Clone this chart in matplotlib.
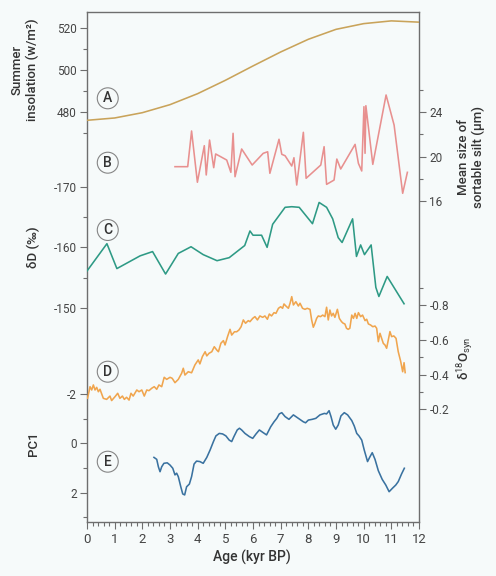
import matplotlib
matplotlib.use('Agg')
import matplotlib.pyplot as plt
from matplotlib.ticker import FixedLocator, FixedFormatter, MultipleLocator

plt.rcParams['font.family'] = ['Roboto', 'DejaVu Sans']
plt.rcParams['mathtext.fontset'] = 'custom'
plt.rcParams['mathtext.rm'] = 'Roboto'
plt.rcParams['mathtext.it'] = 'Roboto:italic'
plt.rcParams['mathtext.bf'] = 'Roboto:bold'
plt.rcParams['axes.unicode_minus'] = False

# ---------------- data ----------------
# A: summer insolation (W/m2)
age_A = [0, 1, 2, 3, 4, 5, 6, 7, 8, 9, 10, 11, 12]
insolation = [476.2, 477.3, 479.8, 483.6, 488.8, 495.1, 501.9, 508.5, 514.5, 519.2, 521.9, 523.2, 522.6]

# B: mean size of sortable silt (um)
age_B = [3.18, 3.64, 3.78, 3.99, 4.24, 4.31, 4.43, 4.58, 4.65, 4.87, 5.05, 5.20, 5.28, 5.35,
         5.59, 5.97, 6.37, 6.53, 6.61, 6.94, 7.04, 7.16, 7.40, 7.48, 7.58, 7.82, 7.92, 8.45,
         8.57, 8.66, 8.93, 9.03, 9.17, 9.69, 9.81, 9.93, 10.01, 10.05, 10.08, 10.33, 10.81,
         11.10, 11.41, 11.58]
silt = [19.08, 19.08, 22.31, 17.67, 20.98, 18.33, 21.49, 18.99, 20.23, 19.93, 19.68, 18.57,
        22.10, 18.17, 20.68, 19.23, 20.29, 20.43, 18.48, 21.56, 20.20, 20.07, 19.14, 19.89,
        17.42, 22.19, 18.03, 19.23, 20.89, 17.48, 17.87, 19.77, 18.87, 21.10, 19.38, 18.69,
        24.51, 20.29, 24.60, 19.29, 25.57, 22.85, 16.67, 18.57]

# C: deltaD (permil)
age_C = [0.0, 0.72, 1.08, 1.92, 2.37, 2.84, 3.3, 3.76, 4.2, 4.7, 5.14, 5.7, 5.89, 6.0, 6.31,
         6.51, 6.71, 7.16, 7.4, 7.67, 8.15, 8.39, 8.66, 8.88, 9.08, 9.22, 9.6, 9.74, 9.89,
         10.03, 10.27, 10.44, 10.55, 10.85, 11.46]
dD = [-156.1, -160.6, -156.5, -158.6, -159.3, -155.6, -159.0, -160.1, -158.8, -157.8, -158.3,
      -160.3, -162.7, -162.0, -162.0, -160.0, -163.8, -166.6, -166.7, -166.6, -163.9, -167.4,
      -166.6, -164.7, -161.6, -160.8, -164.7, -158.5, -160.4, -158.8, -160.4, -153.4, -151.9,
      -155.2, -150.7]

# D: delta18O syn
age_D = [0.02, 0.11, 0.17, 0.23, 0.29, 0.35, 0.41, 0.47, 0.59, 0.71, 0.83, 0.89, 1.01, 1.11,
         1.19, 1.28, 1.35, 1.43, 1.52, 1.59, 1.67, 1.80, 1.88, 1.98, 2.07, 2.16, 2.24, 2.34,
         2.43, 2.52, 2.60, 2.70, 2.79, 2.88, 3.00, 3.08, 3.18, 3.30, 3.42, 3.48, 3.54, 3.66,
         3.78, 3.90, 4.02, 4.08, 4.17, 4.27, 4.33, 4.41, 4.51, 4.60, 4.69, 4.75, 4.84, 4.93,
         4.99, 5.08, 5.17, 5.23, 5.33, 5.41, 5.49, 5.57, 5.65, 5.73, 5.83,
         5.89, 5.99, 6.07, 6.16, 6.25, 6.35, 6.43, 6.52, 6.59, 6.67, 6.76, 6.83, 6.92, 7.00,
         7.07, 7.12, 7.19, 7.28, 7.34, 7.40, 7.46, 7.55, 7.64, 7.70, 7.79, 7.88, 7.96, 8.06,
         8.12, 8.18, 8.24, 8.30, 8.36, 8.44, 8.52, 8.60, 8.66, 8.72, 8.78, 8.84, 8.90, 8.96,
         9.05, 9.12, 9.20, 9.26, 9.32, 9.38, 9.44, 9.50, 9.57, 9.63, 9.69, 9.75, 9.81, 9.89,
         9.96, 10.05, 10.11, 10.17, 10.25, 10.33, 10.41, 10.47, 10.53, 10.59, 10.65, 10.71,
         10.77, 10.83, 10.89, 10.95, 11.01, 11.09, 11.17, 11.25, 11.34, 11.41, 11.46, 11.50]
d18O = [-0.263, -0.330, -0.311, -0.340, -0.311, -0.326, -0.301, -0.315, -0.263, -0.257, -0.276,
        -0.250, -0.272, -0.292, -0.263, -0.276, -0.257, -0.269, -0.253, -0.292, -0.276, -0.311,
        -0.301, -0.311, -0.276, -0.311, -0.307, -0.321, -0.330, -0.315, -0.340, -0.330, -0.384,
        -0.372, -0.384, -0.378, -0.353, -0.372, -0.407, -0.436, -0.397, -0.416, -0.410, -0.455,
        -0.484, -0.461, -0.503, -0.531, -0.507, -0.522, -0.531, -0.560, -0.541, -0.531, -0.580,
        -0.595, -0.570, -0.618, -0.660, -0.627, -0.646, -0.646, -0.656, -0.675, -0.714, -0.695,
        -0.710,
        -0.704, -0.723, -0.733, -0.714, -0.737, -0.729, -0.737, -0.718, -0.748, -0.737, -0.756,
        -0.752, -0.781, -0.790, -0.781, -0.806, -0.794, -0.781, -0.810, -0.848, -0.800, -0.819,
        -0.794, -0.810, -0.781, -0.775, -0.781, -0.775, -0.714, -0.672, -0.695, -0.723, -0.737,
        -0.733, -0.742, -0.733, -0.787, -0.714, -0.771, -0.737, -0.752, -0.729, -0.775, -0.723,
        -0.704, -0.695, -0.691, -0.666, -0.660, -0.666, -0.742, -0.723, -0.752, -0.723, -0.756,
        -0.733, -0.742, -0.710, -0.718, -0.691, -0.685, -0.675, -0.679, -0.666, -0.589, -0.637,
        -0.608, -0.579, -0.570, -0.551, -0.599, -0.647, -0.618, -0.622, -0.608, -0.531, -0.474,
        -0.416, -0.468, -0.411]

# E: PC1
age_E = [2.42, 2.52, 2.58, 2.64, 2.70, 2.78, 2.90, 3.00, 3.10, 3.18, 3.24, 3.30, 3.39, 3.46,
         3.53, 3.60, 3.70, 3.78, 3.87, 3.96, 4.08, 4.20, 4.33, 4.45, 4.57, 4.66, 4.78, 4.90,
         5.02, 5.14, 5.23, 5.31, 5.43, 5.51, 5.59, 5.71, 5.87, 5.99, 6.11, 6.23, 6.37, 6.49,
         6.64, 6.76, 6.86, 6.95, 7.04, 7.16, 7.30, 7.46, 7.64, 7.82, 7.90, 8.00, 8.14, 8.27,
         8.42, 8.58, 8.66, 8.75, 8.82, 8.90, 8.99, 9.08, 9.18, 9.30, 9.42, 9.57, 9.66, 9.75,
         9.83, 9.93, 10.02, 10.14, 10.23, 10.31, 10.41, 10.53, 10.67, 10.80, 10.92, 11.04,
         11.16, 11.25, 11.37, 11.47]
pc1 = [0.57, 0.65, 0.95, 1.15, 0.95, 0.81, 0.79, 0.88, 1.01, 1.28, 1.21, 1.35, 1.76, 2.05,
       2.09, 1.76, 1.65, 1.35, 0.84, 0.72, 0.74, 0.81, 0.57, 0.27, -0.07, -0.30, -0.40, -0.38,
       -0.30, -0.13, -0.07, -0.27, -0.54, -0.61, -0.54, -0.40, -0.27, -0.20, -0.38, -0.54,
       -0.43, -0.34, -0.67, -0.87, -1.01, -1.19, -1.24, -1.08, -0.97, -1.15, -1.01, -0.87,
       -0.83, -0.94, -0.97, -1.01, -1.15, -1.21, -1.19, -1.32, -1.08, -0.74, -0.57, -0.74,
       -1.11, -1.24, -1.15, -0.92, -0.70, -0.40, -0.30, -0.13, 0.27, 0.74, 0.54, 0.38, 0.65,
       1.11, 1.46, 1.69, 1.96, 1.82, 1.69, 1.55, 1.24, 1.01]

# ticks
A_major = [480, 500, 520]; A_minor = [470, 490, 510]
B_major = [16, 20, 24]; B_minor = [18, 22, 26]
C_major = [-170, -160, -150]; C_minor = [-165, -155]
D_major = [-0.8, -0.6, -0.4, -0.2]; D_minor = [-0.9, -0.7, -0.5, -0.3]
D_labels = ['-0.8', '-0.6', '-0.4', '-0.2']
E_major = [-2, 0, 2]; E_minor = [-1, 1, 3]

# ---------------- layout ----------------
BG = '#f6fafa'
SPINE = '#6e6e6e'
TXT = '#333333'
TICKTXT = '#454545'
W, H = 496, 576
L, T, R, Bm = 87, 12, 419, 522

fig = plt.figure(figsize=(W / 100, H / 100), dpi=100, facecolor=BG)
rect = [L / W, 1 - Bm / H, (R - L) / W, (Bm - T) / H]
ax = fig.add_axes(rect, facecolor=BG)
ax.set_xlim(0, 12)
ax.set_ylim(0, 1)
ax.set_yticks([])
for s in ax.spines.values():
    s.set_color(SPINE)
    s.set_linewidth(1.0)
ax.xaxis.set_major_locator(MultipleLocator(1))
ax.xaxis.set_minor_locator(MultipleLocator(0.2))
ax.tick_params(axis='x', which='major', length=5, width=0.8, color=SPINE,
               labelsize=9.5, labelcolor=TICKTXT, pad=3)
ax.tick_params(axis='x', which='minor', length=3, width=0.8, color=SPINE)


def overlay(ylim, side, major, minor, labels=None):
    a = ax.twinx()
    a.set_ylim(*ylim)
    for s in a.spines.values():
        s.set_visible(False)
    if side == 'left':
        a.yaxis.tick_left()
    else:
        a.yaxis.tick_right()
    a.yaxis.set_major_locator(FixedLocator(major))
    a.yaxis.set_minor_locator(FixedLocator(minor))
    if labels is not None:
        a.yaxis.set_major_formatter(FixedFormatter(labels))
    a.tick_params(axis='y', which='major', length=5, width=0.8, color=SPINE,
                  labelsize=8.5, labelcolor=TICKTXT, pad=2.5)
    a.tick_params(axis='y', which='minor', length=3, width=0.8, color=SPINE)
    a.patch.set_visible(False)
    return a


# y-limits chosen so that each record sits in its own band of the frame
axA = overlay((286.3, 527.4), 'left', A_major, A_minor)
axB = overlay((-13.08, 33.08), 'right', B_major, B_minor)
axC = overlay((-114.72, -198.8), 'left', C_major, C_minor)
axD = overlay((0.4486, -2.4858), 'right', D_major, D_minor, D_labels)
axE = overlay((3.186, -17.46), 'left', E_major, E_minor)

lw = 1.15
axA.plot(age_A, insolation, color='#c9a35a', lw=lw)
axB.plot(age_B, silt, color='#e8908f', lw=lw)
axC.plot(age_C, dD, color='#2e9a85', lw=lw)
axD.plot(age_D, d18O, color='#f0a54e', lw=lw)
axE.plot(age_E, pc1, color='#3a72a0', lw=lw)

# circled panel letters
for letter, py in zip(['A', 'B', 'C', 'D', 'E'], [98.3, 162.7, 230, 371.7, 461.7]):
    ax.text(0.75, (Bm - py) / (Bm - T), letter, transform=ax.get_xaxis_transform(),
            ha='center', va='center', fontsize=10, color=TXT, fontweight='medium',
            bbox=dict(boxstyle='circle,pad=0.25', fc=BG, ec='#858585', lw=0.8))


def ftext(px, py, s, size=9.5, **kw):
    fig.text(px / W, 1 - py / H, s, ha='center', va='center', color=TXT,
             fontsize=size, fontweight='medium', **kw)


ftext(25, 70, 'Summer\ninsolation (w/m²)', rotation=90, linespacing=1.2)
ftext(33, 247, 'δD (‰)', rotation=90)
ftext(33, 444, 'PC1', rotation=90)
ftext(471, 157, 'Mean size of\nsortable silt (µm)', rotation=90, linespacing=1.2)
ftext(466, 358, r'δ$^{18}$O$_{\mathrm{syn}}$', rotation=90)
ftext(252, 557, 'Age (kyr BP)', size=10)

fig.savefig('out.png', dpi=100, facecolor=BG)
